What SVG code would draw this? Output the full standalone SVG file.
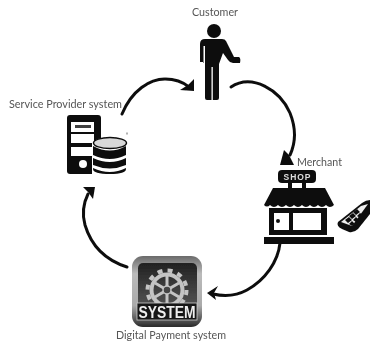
<svg xmlns="http://www.w3.org/2000/svg" width="370" height="344" viewBox="0 0 370 344">
<defs>
<linearGradient id="frame" x1="0" y1="0" x2="0" y2="1"><stop offset="0" stop-color="#6a6a6a"/><stop offset="0.25" stop-color="#bbb"/><stop offset="0.7" stop-color="#aaa"/><stop offset="1" stop-color="#2a2a2a"/></linearGradient>
<linearGradient id="face" x1="0" y1="0" x2="0" y2="1"><stop offset="0" stop-color="#222"/><stop offset="1" stop-color="#555"/></linearGradient>
<filter id="soft" x="-5%" y="-5%" width="110%" height="110%"><feGaussianBlur stdDeviation="0.4"/></filter>
</defs>
<style>
.lbl{font-family:"Lato","Liberation Sans",sans-serif;font-size:10.5px;fill:#555}
.arc{fill:none;stroke:#111;stroke-width:3;stroke-linecap:round}
.hd{fill:#111}
.k{fill:#111}
.w{fill:#fff}
.g{stroke:#c4c4c4;fill:none}
</style>
<g filter="url(#soft)">
<g id="connectors">
<path class="arc" d="M122 114C132 90 150 79 165 79C175 79 183 82 189 87"/>
<path class="hd" d="M194 91L194 79L188 85L180 90Z"/>
<path class="arc" d="M231 87C252 73 280 90 290 113C296 128 296 142 290 155"/>
<path class="hd" d="M280 165L284 150L289 155L294 165Z"/>
<path class="arc" d="M280 243C278 262 265 280 247 290C236 296 226 297 213 294"/>
<path class="hd" d="M207 293L218 286L214 293L216 300Z"/>
<path class="arc" d="M127 267C105 260 91 245 85 225C82 214 83 204 88 194"/>
<path class="hd" d="M95 187L83 187L88 192L93 199Z"/>
</g>
<g id="customer">
<text class="lbl" x="192" y="16" textLength="46" lengthAdjust="spacingAndGlyphs">Customer</text>
<circle class="k" cx="214" cy="31" r="7"/>
<path class="k" d="M205 39H222Q225 39 226 41L234 57H239Q241 58 240 63H233Q230 63 228 60L223 53L219 64V98Q219 100 217 100H207Q205 100 205 98V63H203V62H200V44Q200 39 205 39Z"/>
<path class="w" d="M203.500 46H205V63H203.500ZM211.500 67H212.800V100H211.500Z"/>
</g>
<g id="service-provider">
<text class="lbl" x="9" y="108" textLength="113" lengthAdjust="spacingAndGlyphs">Service Provider system</text>
<rect class="k" x="67" y="115" width="34" height="59" rx="3"/>
<rect class="w" x="71" y="122" width="23" height="10"/>
<rect class="k" x="75" y="125" width="16" height="3" fill-opacity=".8"/>
<rect class="w" x="71" y="134" width="23" height="9"/>
<rect class="w" x="71" y="147" width="23" height="9"/>
<circle class="w" cx="83" cy="164" r="4"/>
<path class="w" d="M92 142H128V176H92Z"/>
<ellipse cx="110" cy="143" rx="16.500" ry="5.500" fill="#d8d8d8" stroke="#111" stroke-width="1.500"/>
<path class="k" d="M93 146Q110 155 126 146V155Q110 163 93 155Z"/>
<path class="k" d="M93 158Q110 166 126 158V165Q110 172 93 165Z"/>
<path class="k" d="M93 168Q110 176 126 168V169Q126 174 110 174Q93 174 93 169Z"/>
<rect x="126.500" y="132.500" width="1" height="2" fill="#666"/>
</g>
<g id="merchant">
<text class="lbl" x="297" y="166" textLength="45" lengthAdjust="spacingAndGlyphs">Merchant</text>
<rect class="k" x="278" y="170" width="38" height="13" rx="4"/>
<text x="297" y="180" text-anchor="middle" font-family="'Liberation Sans',sans-serif" font-size="8.500" font-weight="bold" fill="#ddd" textLength="27" lengthAdjust="spacing">SHOP</text>
<rect class="k" x="288" y="183" width="4" height="6"/>
<rect class="k" x="302" y="183" width="4" height="6"/>
<path class="k" d="M273 188H325L334 205Q330 209 326 205Q322 209 318 205Q314 209 310 205Q306 209 302 205Q298 209 294 205Q290 209 286 205Q282 209 278 205Q274 209 270 205Q267 208 264 205Z"/>
<rect class="k" x="269" y="208" width="58" height="27"/>
<rect class="w" x="274" y="213" width="15" height="17"/>
<rect class="w" x="293" y="213" width="28" height="17"/>
<circle class="k" cx="278" cy="221" r="2"/>
<rect class="k" x="264" y="237" width="70" height="7"/>
</g>
<g id="terminal">
<path class="k" d="M338 222L362 203Q366 200 370 200V214L358 229Q354 233 349 232L342 229Q336 226 338 222Z"/>
<path d="M341 222L361 206L368 204L352 226Z" fill="#eee"/>
<path class="k" d="M345 220L349 217L352 220L348 223ZM349 216L353 213L356 216L352 219ZM353 212L357 209L360 212L356 215ZM349 224L352 221L355 224L352 226ZM353 220L356 217L359 220L356 222ZM357 216L360 213L363 215L360 218Z"/>
</g>
<g id="payment-system">
<rect x="132" y="256" width="70" height="71" rx="11" fill="url(#frame)"/>
<rect x="138" y="263" width="59" height="45" rx="5" fill="url(#face)"/>
<circle class="g" cx="167" cy="290" r="19.500" stroke-width="4" stroke-dasharray="5 5.210"/>
<circle class="g" cx="167" cy="290" r="15.500" stroke-width="4"/>
<path class="g" d="M167 276V304M155 283L179 297M179 283L155 297" stroke-width="3"/>
<circle cx="167" cy="290" r="4" fill="#444" stroke="#c4c4c4" stroke-width="1.500"/>
<rect x="137" y="303" width="60" height="17" fill="#151515" stroke="#ccc" stroke-width="0.800"/>
<text x="167" y="317.500" text-anchor="middle" font-family="'Liberation Sans',sans-serif" font-size="16" font-weight="bold" fill="#eee" textLength="57" lengthAdjust="spacingAndGlyphs">SYSTEM</text>
</g>
<text class="lbl" x="116" y="339" textLength="110" lengthAdjust="spacingAndGlyphs">Digital Payment system</text>
</g>
</svg>
